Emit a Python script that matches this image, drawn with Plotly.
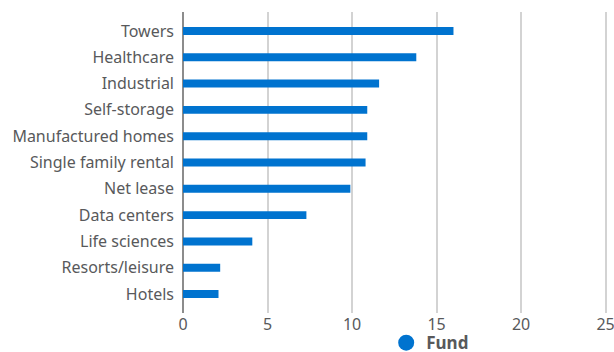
import plotly.graph_objects as go

categories = ["Towers", "Healthcare", "Industrial", "Self-storage", "Manufactured homes",
              "Single family rental", "Net lease", "Data centers", "Life sciences",
              "Resorts/leisure", "Hotels"]
fund_values = [16.0, 13.8, 11.6, 10.9, 10.9, 10.8, 9.9, 7.3, 4.1, 2.2, 2.1]
x_ticks = [0, 5, 10, 15, 20, 25]
series_name = "Fund"

BLUE = "#0073CF"
TXT = "#58595B"
FONT = "Noto Sans"

fig = go.Figure()
fig.add_trace(go.Bar(
    y=categories, x=fund_values, orientation="h",
    marker=dict(color=BLUE, line=dict(width=0)),
    showlegend=False, hoverinfo="x+y",
))
fig.add_trace(go.Scatter(
    x=[None], y=[None], mode="markers", name=series_name,
    marker=dict(color=BLUE, size=16, symbol="circle"),
    showlegend=True,
))

fig.update_layout(
    width=614, height=352,
    margin=dict(l=183, r=5, t=12, b=39, autoexpand=False),
    paper_bgcolor="white", plot_bgcolor="white",
    bargap=0.7,
    font=dict(family=FONT, size=16, color=TXT),
    xaxis=dict(
        range=[0, 25.2], tickvals=x_ticks, ticktext=[str(t) for t in x_ticks],
        showgrid=True, gridcolor="#D3D3D3", gridwidth=1.5,
        zeroline=True, zerolinecolor="#8C8C8C", zerolinewidth=1.5,
        showline=False, ticks="", tickfont=dict(size=16, color=TXT),
        ticklabeloverflow="allow",
        fixedrange=True, automargin=False,
    ),
    yaxis=dict(
        categoryorder="array", categoryarray=categories,
        range=[10.72, -0.72],
        showgrid=False, zeroline=False, showline=False,
        ticks="", ticklabelstandoff=8,
        tickfont=dict(size=16, color=TXT),
        fixedrange=True, automargin=False,
    ),
    legend=dict(
        orientation="h", x=0.477, xanchor="left", y=-0.1, yanchor="middle",
        font=dict(size=17, color=TXT, family=FONT, weight="bold"),
        bgcolor="rgba(0,0,0,0)", itemwidth=30,
    ),
)

fig.write_html("out.html")
